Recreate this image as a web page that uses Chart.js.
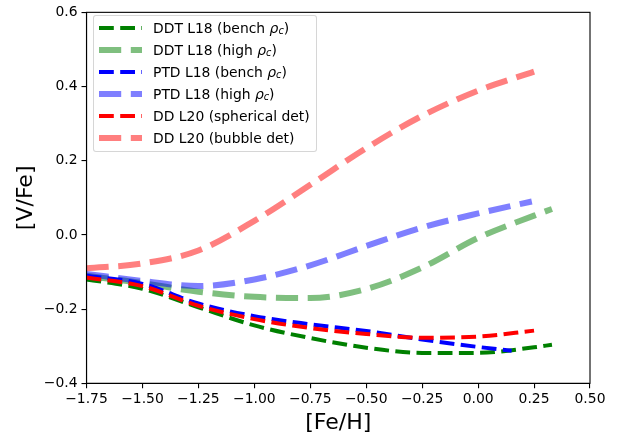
<!DOCTYPE html>
<html>
<head>
<meta charset="utf-8">
<script src="https://cdn.jsdelivr.net/npm/chart.js@4/dist/chart.umd.min.js"></script>
<style>
  html, body { margin: 0; padding: 0; background: #fff; }
  #wrap { position: relative; width: 618px; height: 436px; }
  #legend { position: absolute; left: 93px; top: 15px; width: 224px; height: 137px;
    border: 1px solid rgba(204,204,204,0.8); border-radius: 3px; background: rgba(255,255,255,0.8);
    font-family: 'DejaVu Sans', sans-serif; font-size: 13.9px; color: #000; box-sizing: border-box; }
  .row { position: absolute; left: 0; height: 20px; width: 100%; }
  .row svg { position: absolute; left: 5px; top: 6px; }
  .row span { position: absolute; left: 59px; top: 1px; white-space: nowrap; line-height: 18px; }
  .rho { font-style: italic; }
  .sub { font-style: italic; font-size: 0.7em; position: relative; top: 0.28em; }
</style>
</head>
<body>
<div id="wrap">
  <canvas id="c" width="618" height="436"></canvas>
  <div id="legend"></div>
</div>
<script>
// ---- data ----
const feH_ddt      = [-1.75, -1.5, -1.25, -1.0, -0.75, -0.5, -0.25, 0.0, 0.25, 0.33];
const feH_ptdBench = [-1.75, -1.5, -1.25, -1.0, -0.75, -0.5, -0.25, 0.0, 0.15];
const feH_ptdHigh  = [-1.75, -1.5, -1.25, -1.0, -0.75, -0.5, -0.25, 0.0, 0.24];
const feH_dd       = [-1.75, -1.5, -1.25, -1.0, -0.75, -0.5, -0.25, 0.0, 0.25];

const ddtBench = [-0.120, -0.145, -0.195, -0.244, -0.278, -0.304, -0.318, -0.318, -0.303, -0.296];
const ddtHigh  = [-0.110, -0.130, -0.153, -0.167, -0.170, -0.146, -0.088, -0.008, 0.052, 0.070];
const ptdBench = [-0.110, -0.132, -0.185, -0.219, -0.241, -0.259, -0.282, -0.302, -0.312];
const ptdHigh  = [-0.105, -0.124, -0.138, -0.120, -0.082, -0.030, 0.020, 0.058, 0.090];
const ddSph    = [-0.115, -0.138, -0.191, -0.227, -0.251, -0.267, -0.277, -0.274, -0.258];
const ddBub    = [-0.090, -0.077, -0.042, 0.038, 0.135, 0.234, 0.321, 0.389, 0.440];

const seriesLabels = ['DDT L18 (bench ρc)', 'DDT L18 (high ρc)', 'PTD L18 (bench ρc)',
                      'PTD L18 (high ρc)', 'DD L20 (spherical det)', 'DD L20 (bubble det)'];
const xTicksStep = 0.25, yTicksStep = 0.2;

// ---- styles ----
const styles = [
  { color: 'rgb(0,128,0)',       width: 4 },
  { color: 'rgba(0,128,0,0.5)',  width: 6 },
  { color: 'rgb(0,0,255)',       width: 4 },
  { color: 'rgba(0,0,255,0.5)',  width: 6 },
  { color: 'rgb(255,0,0)',       width: 4 },
  { color: 'rgba(255,0,0,0.5)',  width: 6 }
];
const xsList = [feH_ddt, feH_ddt, feH_ptdBench, feH_ptdHigh, feH_dd, feH_dd];
const ysList = [ddtBench, ddtHigh, ptdBench, ptdHigh, ddSph, ddBub];

const fmt = (v, d) => v.toFixed(d).replace('-', '\u2212');

Chart.defaults.font.family = "'DejaVu Sans', sans-serif";
Chart.defaults.color = '#000';

const datasets = ysList.map((ys, i) => ({
  label: seriesLabels[i],
  data: ys.map((y, j) => ({ x: xsList[i][j], y })),
  borderColor: styles[i].color,
  borderWidth: styles[i].width,
  borderDash: [3.7 * styles[i].width, 1.6 * styles[i].width],
  borderCapStyle: 'butt',
  pointRadius: 0,
  fill: false,
  cubicInterpolationMode: 'monotone',
  order: 10 - i
}));

const frame = {
  id: 'frame',
  afterDatasetsDraw(chart) {
    const a = chart.chartArea, ctx = chart.ctx;
    ctx.save();
    ctx.strokeStyle = '#000';
    ctx.lineWidth = 1.1;
    ctx.strokeRect(a.left, a.top, a.right - a.left, a.bottom - a.top);
    ctx.restore();
  }
};

new Chart(document.getElementById('c'), {
  type: 'line',
  data: { datasets },
  plugins: [frame],
  options: {
    responsive: false,
    animation: false,
    layout: { padding: { left: 0, right: 28, top: 9, bottom: 0 } },
    plugins: { legend: { display: false }, tooltip: { enabled: false } },
    scales: {
      x: {
        type: 'linear', min: -1.75, max: 0.5,
        ticks: { stepSize: xTicksStep, callback: v => fmt(v, 2), font: { size: 13.9 }, padding: 3, maxRotation: 0, autoSkip: false, color: '#000' },
        grid: { drawOnChartArea: false, drawTicks: true, tickLength: 5, color: '#000', lineWidth: 1.1 },
        border: { display: true, color: '#000', width: 1.1 },
        title: { display: true, text: '[Fe/H]', font: { size: 22 }, color: '#000', padding: 0 },
        afterFit: s => { s.height = 52.7; }
      },
      y: {
        type: 'linear', min: -0.4, max: 0.6,
        ticks: { stepSize: yTicksStep, callback: v => fmt(v, 1), font: { size: 13.9 }, padding: 4, color: '#000' },
        grid: { drawOnChartArea: false, drawTicks: true, tickLength: 5, color: '#000', lineWidth: 1.1 },
        border: { display: true, color: '#000', width: 1.1 },
        title: { display: true, text: '[V/Fe]', font: { size: 22 }, color: '#000', padding: { top: 13 } },
        afterFit: s => { s.width = 86.5; }
      }
    }
  }
});

// ---- HTML legend (for the subscripted rho) ----
const legend = document.getElementById('legend');
seriesLabels.forEach((lab, i) => {
  const row = document.createElement('div');
  row.className = 'row';
  row.style.top = (13.3 + 22 * i - 10 - 1) + 'px';
  const w = styles[i].width;
  const svgNS = 'http://www.w3.org/2000/svg';
  const svg = document.createElementNS(svgNS, 'svg');
  svg.setAttribute('width', '43'); svg.setAttribute('height', '8');
  const ln = document.createElementNS(svgNS, 'line');
  ln.setAttribute('x1', '0'); ln.setAttribute('x2', '43');
  ln.setAttribute('y1', '4'); ln.setAttribute('y2', '4');
  ln.setAttribute('stroke', styles[i].color);
  ln.setAttribute('stroke-width', String(w));
  ln.setAttribute('stroke-dasharray', (3.7 * w) + ' ' + (1.6 * w));
  svg.appendChild(ln);
  row.appendChild(svg);
  const span = document.createElement('span');
  const k = lab.indexOf('ρc');
  if (k >= 0) {
    span.appendChild(document.createTextNode(lab.slice(0, k)));
    const r = document.createElement('span'); r.className = 'rho'; r.style.position = 'static'; r.textContent = 'ρ';
    const c = document.createElement('span'); c.className = 'sub'; c.style.position = 'relative'; c.style.left = '0'; c.textContent = 'c';
    span.appendChild(r); span.appendChild(c);
    span.appendChild(document.createTextNode(lab.slice(k + 2)));
  } else {
    span.textContent = lab;
  }
  row.appendChild(span);
  legend.appendChild(row);
});
</script>
</body>
</html>
